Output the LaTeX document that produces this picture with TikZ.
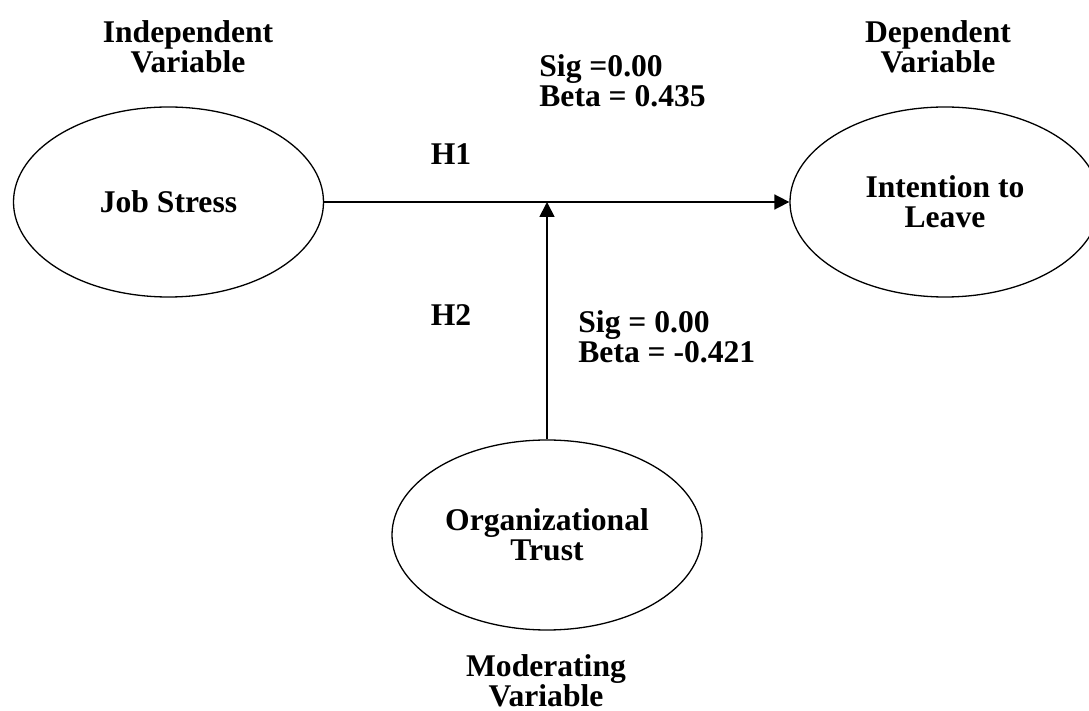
\documentclass[tikz,border=0pt]{standalone}
\usepackage{fontspec}
\setmainfont{Liberation Serif}
\usetikzlibrary{shapes.geometric, arrows.meta, positioning, calc}

\begin{document}
\begin{tikzpicture}[x=0.5pt, y=-0.5pt,
    font=\fontsize{15.8}{15}\selectfont\bfseries,
    construct/.style={ellipse, draw, line width=0.65pt, minimum width=155pt,
        minimum height=95pt, inner sep=0pt, align=center},
    caption/.style={align=center, inner sep=0pt, anchor=base},
    stat/.style={align=left, inner sep=0pt, anchor=base west},
    link/.style={line width=0.85pt, -{Triangle[length=7.5pt,width=7.5pt]}}]

\useasboundingbox (0,0) rectangle (1089,711);

% Constructs
\node[construct] (js) at (168.5,202) {Job Stress};
\node[construct] (itl) at (945,202) {Intention to\\Leave};
\node[construct] (ot) at (547,535) {Organizational\\Trust};

% Variable roles
\node[caption] (iv) at (188,73) {Independent\\Variable};
\node[caption] (dv) at (938,73) {Dependent\\Variable};
\node[caption] (mv) at (546,707) {Moderating\\Variable};

% Paths
\coordinate (meet) at (ot.north |- js.east);
\draw[link] (js.east) -- (itl.west);
\draw[link] (ot.north) -- (meet);

% Hypotheses and results
\node[caption] (h1) at (451,165) {H1};
\node[caption] (h2) at (451,326) {H2};
\node[stat] (s1) at (539,107) {Sig =0.00\\Beta = 0.435};
\node[stat] (s2) at (578,363) {Sig = 0.00\\Beta = -0.421};
\end{tikzpicture}
\end{document}
